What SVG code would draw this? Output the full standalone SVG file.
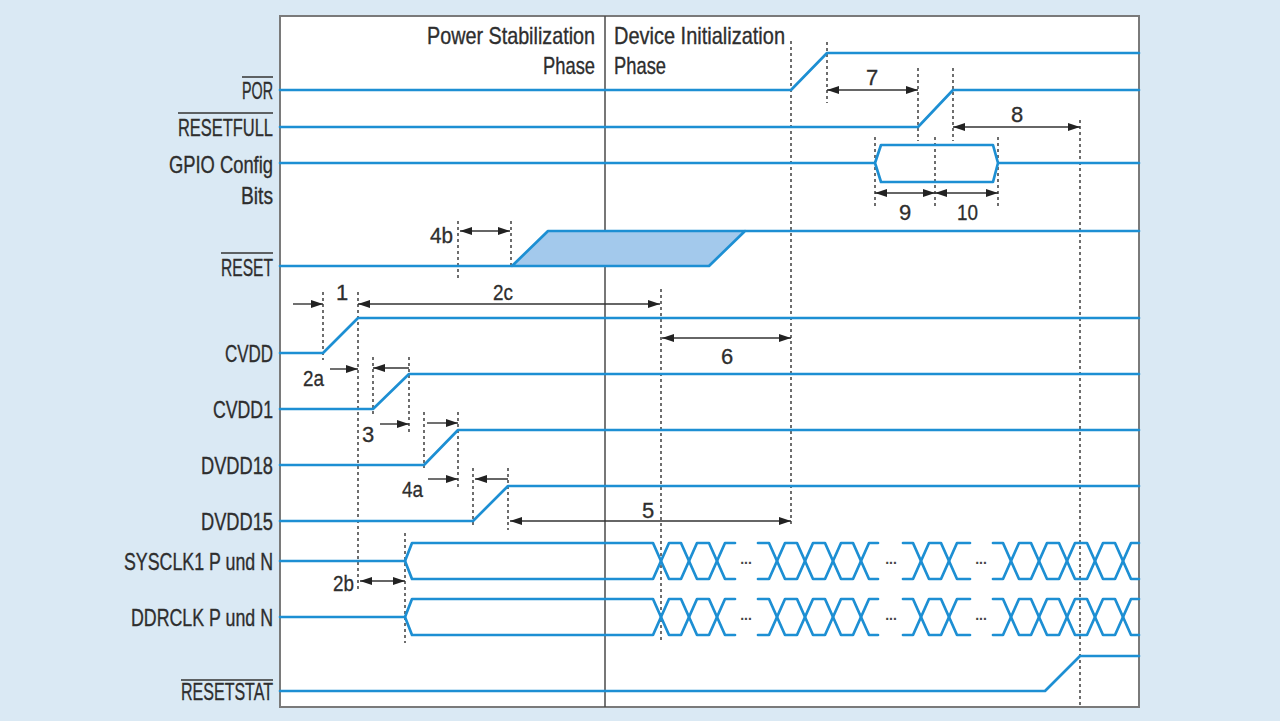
<svg xmlns="http://www.w3.org/2000/svg" xmlns:xlink="http://www.w3.org/1999/xlink" width="1280" height="721" viewBox="0 0 1280 721">
<style>
.bg{fill:#dae9f4}
.panel{fill:#ffffff;stroke:#7a7a7a;stroke-width:2}
.phase{stroke:#4a4a4a;stroke-width:1.5;fill:none}
.sig{stroke:#1d8fd3;stroke-width:2.7;fill:none;stroke-linejoin:round;stroke-linecap:round}
.band{fill:#a3c9ec;stroke:none}
.dash{stroke:#555;stroke-width:1.7;stroke-dasharray:3 3;fill:none}
.dim{stroke:#333;stroke-width:1.4;fill:none}
.lbl{font-family:"Liberation Sans",Arial,sans-serif;font-size:24px;fill:#2e2e2e;stroke:#2e2e2e;stroke-width:0.35}
.num{font-family:"Liberation Sans",Arial,sans-serif;font-size:22px;fill:#2e2e2e;stroke:#2e2e2e;stroke-width:0.3}
.dots{font-family:"Liberation Sans",Arial,sans-serif;font-size:14px;fill:#444;font-weight:bold}
.ovl{stroke:#333;stroke-width:1.5}
</style>
<defs>
<marker id="ah" viewBox="0 0 12 8" refX="12" refY="4" markerWidth="12" markerHeight="8" markerUnits="userSpaceOnUse" orient="auto-start-reverse">
<path d="M0,0 L12,4 L0,8 z" fill="#222"/>
</marker>
<g id="clkwave">
<path class="sig" d="M280,561 H405 L412,543 H653 L669,579 H681 L697,543 H709 L725,579 H735"/>
<path class="sig" d="M405,561 L412,579 H653 L669,543 H681 L697,579 H709 L725,543 H735"/>
<path class="sig" d="M758,543 H769 L785,579 H797 L813,543 H825 L841,579 H853 L869,543 H878"/>
<path class="sig" d="M758,579 H769 L785,543 H797 L813,579 H825 L841,543 H853 L869,579 H878"/>
<path class="sig" d="M903,543 H913 L929,579 H941 L957,543 H970"/>
<path class="sig" d="M903,579 H913 L929,543 H941 L957,579 H970"/>
<path class="sig" d="M993,543 H1003 L1019,579 H1031 L1047,543 H1059 L1075,579 H1087 L1103,543 H1115 L1131,579 H1139"/>
<path class="sig" d="M993,579 H1003 L1019,543 H1031 L1047,579 H1059 L1075,543 H1087 L1103,579 H1115 L1131,543 H1139"/>
</g>
</defs>

<rect class="bg" x="0" y="0" width="1280" height="721"/>
<rect class="panel" x="280" y="16" width="859" height="691"/>

<g id="phases">
<line class="phase" x1="605" y1="16" x2="605" y2="707"/>
<text class="lbl" x="427" y="44" textLength="168" lengthAdjust="spacingAndGlyphs">Power Stabilization</text>
<text class="lbl" x="543" y="74" textLength="52" lengthAdjust="spacingAndGlyphs">Phase</text>
<text class="lbl" x="614" y="44" textLength="171" lengthAdjust="spacingAndGlyphs">Device Initialization</text>
<text class="lbl" x="614" y="74" textLength="52" lengthAdjust="spacingAndGlyphs">Phase</text>
</g>

<g id="sig-reset-band">
<path class="band" d="M512,266 L548,231 H745 L709,266 Z"/>
</g>

<g id="connectors">
<g id="guides">
<line class="dash" x1="323" y1="292" x2="323" y2="360"/>
<line class="dash" x1="358" y1="292" x2="358" y2="592"/>
<line class="dash" x1="373" y1="357" x2="373" y2="414"/>
<line class="dash" x1="409" y1="357" x2="409" y2="432"/>
<line class="dash" x1="424" y1="412" x2="424" y2="468"/>
<line class="dash" x1="458" y1="412" x2="458" y2="488"/>
<line class="dash" x1="473" y1="468" x2="473" y2="528"/>
<line class="dash" x1="508" y1="468" x2="508" y2="530"/>
<line class="dash" x1="405" y1="533" x2="405" y2="643"/>
<line class="dash" x1="458" y1="221" x2="458" y2="279"/>
<line class="dash" x1="511" y1="221" x2="511" y2="268"/>
<line class="dash" x1="661" y1="289" x2="661" y2="643"/>
<line class="dash" x1="791" y1="41" x2="791" y2="525"/>
<line class="dash" x1="827" y1="42" x2="827" y2="103"/>
<line class="dash" x1="918" y1="68" x2="918" y2="141"/>
<line class="dash" x1="953" y1="68" x2="953" y2="141"/>
<line class="dash" x1="875" y1="137" x2="875" y2="207"/>
<line class="dash" x1="935" y1="137" x2="935" y2="207"/>
<line class="dash" x1="998" y1="137" x2="998" y2="207"/>
<line class="dash" x1="1080" y1="120" x2="1080" y2="707"/>
</g>
<g id="dimensions">
<line class="dim" x1="827" y1="90" x2="918" y2="90" marker-start="url(#ah)" marker-end="url(#ah)"/>
<line class="dim" x1="953" y1="127" x2="1080" y2="127" marker-start="url(#ah)" marker-end="url(#ah)"/>
<line class="dim" x1="875" y1="193" x2="935" y2="193" marker-start="url(#ah)" marker-end="url(#ah)"/>
<line class="dim" x1="935" y1="193" x2="998" y2="193" marker-start="url(#ah)" marker-end="url(#ah)"/>
<line class="dim" x1="460" y1="231" x2="510" y2="231" marker-start="url(#ah)" marker-end="url(#ah)"/>
<line class="dim" x1="358" y1="304" x2="660" y2="304" marker-start="url(#ah)" marker-end="url(#ah)"/>
<line class="dim" x1="293" y1="304" x2="323" y2="304" marker-end="url(#ah)"/>
<line class="dim" x1="330" y1="369" x2="358" y2="369" marker-end="url(#ah)"/>
<line class="dim" x1="373" y1="368" x2="409" y2="368" marker-start="url(#ah)"/>
<line class="dim" x1="380" y1="424" x2="409" y2="424" marker-end="url(#ah)"/>
<line class="dim" x1="427" y1="423" x2="458" y2="423" marker-end="url(#ah)"/>
<line class="dim" x1="428" y1="479" x2="458" y2="479" marker-end="url(#ah)"/>
<line class="dim" x1="475" y1="479" x2="508" y2="479" marker-start="url(#ah)"/>
<line class="dim" x1="510" y1="521" x2="791" y2="521" marker-start="url(#ah)" marker-end="url(#ah)"/>
<line class="dim" x1="662" y1="338" x2="791" y2="338" marker-start="url(#ah)" marker-end="url(#ah)"/>
<line class="dim" x1="360" y1="581" x2="405" y2="581" marker-start="url(#ah)" marker-end="url(#ah)"/>
</g>
<g id="dim-labels">
<text class="num" x="342" y="300" text-anchor="middle">1</text>
<text class="num" x="493" y="300" textLength="20" lengthAdjust="spacingAndGlyphs">2c</text>
<text class="num" x="430" y="243" textLength="23" lengthAdjust="spacingAndGlyphs">4b</text>
<text class="num" x="303" y="386" textLength="21" lengthAdjust="spacingAndGlyphs">2a</text>
<text class="num" x="368" y="442" text-anchor="middle">3</text>
<text class="num" x="402" y="497" textLength="21" lengthAdjust="spacingAndGlyphs">4a</text>
<text class="num" x="648" y="518" text-anchor="middle">5</text>
<text class="num" x="727" y="364" text-anchor="middle">6</text>
<text class="num" x="872" y="85" text-anchor="middle">7</text>
<text class="num" x="1017" y="122" text-anchor="middle">8</text>
<text class="num" x="905" y="220" text-anchor="middle">9</text>
<text class="num" x="957" y="220" textLength="21" lengthAdjust="spacingAndGlyphs">10</text>
<text class="num" x="333" y="591" textLength="21" lengthAdjust="spacingAndGlyphs">2b</text>
</g>
</g>

<g id="sig-por">
<path class="sig" d="M280,90 H791 L827,53 H1139"/>
<line class="ovl" x1="242" y1="77" x2="273" y2="77"/>
<text class="lbl" x="242" y="99" textLength="31" lengthAdjust="spacingAndGlyphs">POR</text>
</g>
<g id="sig-resetfull">
<path class="sig" d="M280,127 H918 L953,90 H1139"/>
<line class="ovl" x1="178" y1="113" x2="273" y2="113"/>
<text class="lbl" x="178" y="136" textLength="95" lengthAdjust="spacingAndGlyphs">RESETFULL</text>
</g>
<g id="sig-gpio">
<path class="sig" d="M280,163 H875 L881,145 H993 L998,163 L993,182 H881 L875,163 M998,163 H1139"/>
<text class="lbl" x="169" y="173" textLength="104" lengthAdjust="spacingAndGlyphs">GPIO Config</text>
<text class="lbl" x="241" y="204" textLength="32" lengthAdjust="spacingAndGlyphs">Bits</text>
</g>
<g id="sig-reset">
<path class="sig" d="M280,266 H709 L745,231 M512,266 L548,231 H1139"/>
<line class="ovl" x1="221" y1="253" x2="273" y2="253"/>
<text class="lbl" x="221" y="276" textLength="52" lengthAdjust="spacingAndGlyphs">RESET</text>
</g>
<g id="sig-cvdd">
<path class="sig" d="M280,353 H323 L358,318 H1139"/>
<text class="lbl" x="225" y="362" textLength="48" lengthAdjust="spacingAndGlyphs">CVDD</text>
</g>
<g id="sig-cvdd1">
<path class="sig" d="M280,409 H373 L409,374 H1139"/>
<text class="lbl" x="213" y="418" textLength="60" lengthAdjust="spacingAndGlyphs">CVDD1</text>
</g>
<g id="sig-dvdd18">
<path class="sig" d="M280,465 H424 L458,430 H1139"/>
<text class="lbl" x="201" y="474" textLength="72" lengthAdjust="spacingAndGlyphs">DVDD18</text>
</g>
<g id="sig-dvdd15">
<path class="sig" d="M280,521 H473 L508,486 H1139"/>
<text class="lbl" x="201" y="530" textLength="72" lengthAdjust="spacingAndGlyphs">DVDD15</text>
</g>
<g id="sig-sysclk1">
<use xlink:href="#clkwave" href="#clkwave"/>
<text class="dots" x="746" y="564" text-anchor="middle">...</text>
<text class="dots" x="891" y="564" text-anchor="middle">...</text>
<text class="dots" x="981" y="564" text-anchor="middle">...</text>
<text class="lbl" x="124" y="570" textLength="149" lengthAdjust="spacingAndGlyphs">SYSCLK1 P und N</text>
</g>
<g id="sig-ddrclk">
<use xlink:href="#clkwave" href="#clkwave" y="56"/>
<text class="dots" x="746" y="620" text-anchor="middle">...</text>
<text class="dots" x="891" y="620" text-anchor="middle">...</text>
<text class="dots" x="981" y="620" text-anchor="middle">...</text>
<text class="lbl" x="131" y="626" textLength="142" lengthAdjust="spacingAndGlyphs">DDRCLK P und N</text>
</g>
<g id="sig-resetstat">
<path class="sig" d="M280,691 H1045 L1080,656 H1139"/>
<line class="ovl" x1="181" y1="680" x2="273" y2="680"/>
<text class="lbl" x="181" y="700" textLength="92" lengthAdjust="spacingAndGlyphs">RESETSTAT</text>
</g>
</svg>
